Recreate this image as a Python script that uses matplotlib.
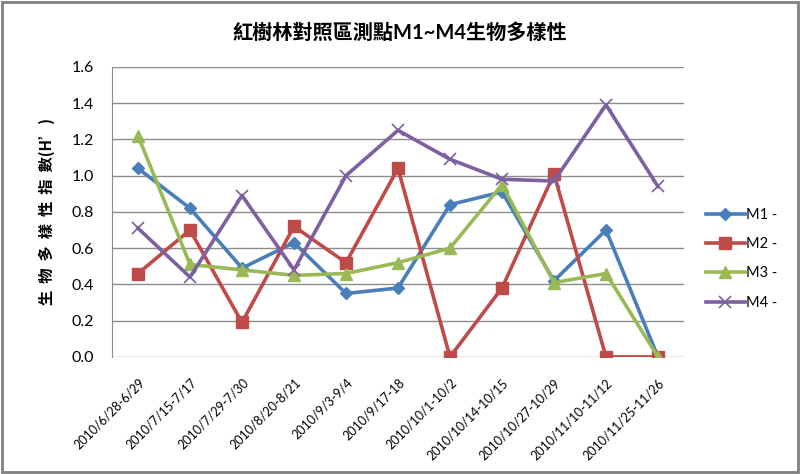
import matplotlib
matplotlib.use("Agg")
import matplotlib.pyplot as plt
from matplotlib.patches import Rectangle

plt.rcParams['font.family'] = ['Lato', 'Noto Sans CJK TC', 'DejaVu Sans']

periods = ['2010/6/28-6/29', '2010/7/15-7/17', '2010/7/29-7/30', '2010/8/20-8/21',
           '2010/9/3-9/4', '2010/9/17-18', '2010/10/1-10/2', '2010/10/14-10/15',
           '2010/10/27-10/29', '2010/11/10-11/12', '2010/11/25-11/26']
m1 = [1.04, 0.82, 0.49, 0.63, 0.35, 0.38, 0.84, 0.91, 0.42, 0.70, 0.0]
m2 = [0.46, 0.70, 0.19, 0.72, 0.52, 1.04, 0.0, 0.38, 1.01, 0.0, 0.0]
m3 = [1.22, 0.51, 0.48, 0.45, 0.46, 0.52, 0.60, 0.95, 0.41, 0.46, 0.0]
m4 = [0.71, 0.44, 0.89, 0.48, 1.00, 1.25, 1.09, 0.98, 0.97, 1.39, 0.94]
names = ['M1 -', 'M2 -', 'M3 -', 'M4 -']

fig = plt.figure(figsize=(8, 4.74), dpi=100)
fig.patches.append(Rectangle((0.003, 0.005), 0.994, 0.99, transform=fig.transFigure,
                             fill=False, edgecolor='#808080', linewidth=2))

ax = fig.add_axes([0.14, 0.247, 0.715, 0.612])
x = range(len(periods))
ax.plot(x, m1, color='#4A7EBB', lw=2.6, marker='D', ms=6, label=names[0])
ax.plot(x, m2, color='#BE4B48', lw=2.6, marker='s', ms=9, label=names[1])
ax.plot(x, m3, color='#98B954', lw=2.6, marker='^', ms=9, label=names[2])
ax.plot(x, m4, color='#7D60A0', lw=2.6, marker='x', ms=9, mew=1.2, label=names[3])

ax.set_ylim(0, 1.6)
ax.set_xlim(-0.5, len(periods) - 0.5)
ax.set_yticks([i * 0.2 for i in range(9)])
ax.set_yticklabels(['%.1f' % (i * 0.2) for i in range(9)], fontsize=11.5)
ax.set_xticks(list(x))
ax.set_xticklabels(periods, rotation=45, ha='right', rotation_mode='anchor', fontsize=9)
ax.yaxis.grid(True, color='#8c8c8c', lw=1)
ax.set_axisbelow(True)
for s in ['top', 'right', 'bottom']:
    ax.spines[s].set_visible(False)
ax.spines['left'].set_color('#8c8c8c')
ax.tick_params(axis='y', length=0, pad=13)
ax.tick_params(axis='x', length=0, pad=14)

ax.set_ylabel('生  物  多  樣  性  指  數(H’)', fontsize=11, fontweight='bold', labelpad=12,
              family=['Noto Sans CJK TC', 'DejaVu Sans'])
fig.text(0.5, 0.93, '紅樹林對照區測點M1~M4生物多樣性', ha='center', va='center',
         fontsize=14.5, fontweight='bold')

fig.legend(loc='center left', bbox_to_anchor=(0.882, 0.454), frameon=False,
           fontsize=10.5, labelspacing=1.05, handlelength=2.7, handletextpad=0.1,
           borderaxespad=0, borderpad=0)

fig.savefig('out.png', dpi=100)
